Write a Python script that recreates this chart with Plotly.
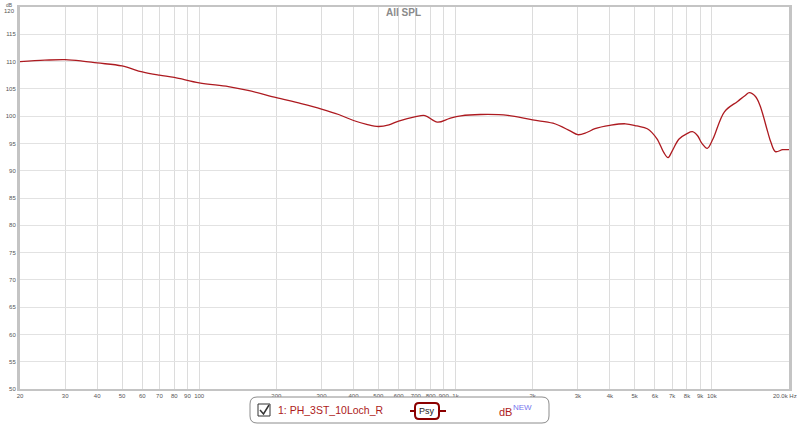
import plotly.graph_objects as go

# ---- data ----
freq_hz = [20, 25, 30, 35, 40, 50, 60, 70, 80, 100, 130, 155, 200, 250, 300, 350, 400, 450, 500,
           550, 600, 700, 760, 850, 950, 1050, 1250, 1600, 2000, 2400, 2800, 3000, 3250, 3500,
           4000, 4600, 5100, 5600, 6100, 6500, 6750, 7000, 7450, 8000, 8400, 8800, 9150, 9600,
           10100, 11200, 12600, 13500, 14000, 14800, 15400, 16500, 17000, 17700, 18900, 20000]
spl_db = [110.0, 110.25, 110.35, 110.1, 109.75, 109.2, 108.1, 107.5, 107.1, 106.1, 105.4, 104.7,
          103.4, 102.3, 101.3, 100.3, 99.2, 98.5, 98.1, 98.4, 99.1, 99.9, 100.1, 98.9, 99.6,
          100.05, 100.3, 100.15, 99.3, 98.7, 97.3, 96.6, 97.0, 97.7, 98.3, 98.6, 98.2, 97.7,
          95.9, 93.3, 92.4, 93.6, 95.8, 96.8, 97.15, 96.4, 95.0, 94.1, 95.8, 100.8, 102.7,
          103.8, 104.3, 103.6, 102.0, 97.2, 95.2, 93.5, 93.85, 93.85]

x_tick_vals = [20, 30, 40, 50, 60, 70, 80, 90, 100, 200, 300, 400, 500, 600, 700, 800, 900,
               1000, 2000, 3000, 4000, 5000, 6000, 7000, 8000, 9000, 10000, 20000]
x_tick_text = ["20", "30", "40", "50", "60", "70", "80", "90", "100", "200", "300", "400", "500",
               "600", "700", "800", "900", "1k", "2k", "3k", "4k", "5k", "6k", "7k", "8k", "9k",
               "10k", ""]          # last label ("20.0k Hz") drawn separately at the edge
last_x_label = "20.0k Hz"
y_tick_vals = list(range(50, 121, 5))
y_tick_text = [str(v) for v in range(50, 116, 5)] + [""]   # 120 drawn separately under "dB"

series_name = "1: PH_3ST_10Loch_R"
title_text = "All SPL"

# ---- layout geometry (pixels) ----
W, H = 800, 425
L, R, T, B = 20, 789, 7, 389
DARKRED = "#ad1a20"
FONT = "Liberation Sans, Arial, sans-serif"


def px(x):
    return (x - L) / (R - L)


def py(y):
    return (B - y) / (B - T)


def rounded_rect(x0, y0, x1, y1, r):
    # pixel coords -> paper path with rounded corners
    rx = r / (R - L)
    ry = r / (B - T)
    a0, a1 = px(x0), px(x1)
    b0, b1 = py(y0), py(y1)  # b0 top, b1 bottom
    return (f"M {a0+rx},{b0} L {a1-rx},{b0} Q {a1},{b0} {a1},{b0-ry} "
            f"L {a1},{b1+ry} Q {a1},{b1} {a1-rx},{b1} L {a0+rx},{b1} "
            f"Q {a0},{b1} {a0},{b1+ry} L {a0},{b0-ry} Q {a0},{b0} {a0+rx},{b0} Z")


def label(text, x, y, size, color, xanchor="center", yanchor="middle"):
    return dict(text=text, x=px(x), y=py(y), xref="paper", yref="paper",
                xanchor=xanchor, yanchor=yanchor, showarrow=False,
                font=dict(size=size, color=color, family=FONT))


fig = go.Figure()
fig.add_trace(go.Scatter(
    x=freq_hz, y=spl_db, mode="lines",
    line=dict(color=DARKRED, width=1.3, shape="spline", smoothing=1.0),
    name=series_name, showlegend=False, hoverinfo="skip",
))

fig.update_layout(
    width=W, height=H,
    margin=dict(l=L, r=W - R, t=T, b=H - B, autoexpand=False),
    paper_bgcolor="white", plot_bgcolor="white",
    font=dict(family=FONT, size=7, color="#666666"),
    showlegend=False,
    xaxis=dict(
        type="log", range=[1.30103, 4.30103], automargin=False,
        tickvals=x_tick_vals, ticktext=x_tick_text,
        showgrid=True, gridcolor="#dcdcdc", gridwidth=1,
        showline=True, linecolor="#c4c4c4", linewidth=2, mirror=True,
        ticks="", tickfont=dict(size=6, color="#555555"), zeroline=False,
    ),
    yaxis=dict(
        range=[50, 120], tickvals=y_tick_vals, ticktext=y_tick_text, automargin=False,
        showgrid=True, gridcolor="#e2e2e2", gridwidth=1,
        showline=True, linecolor="#c4c4c4", linewidth=3, mirror=True,
        ticks="", tickfont=dict(size=6, color="#555555"), zeroline=False,
    ),
)

shapes = []
annotations = []

# title and axis unit labels
annotations.append(label(f"<b>{title_text}</b>", 403, 13, 10, "#8a8a8a"))
annotations.append(label("dB", 15, -0.5, 5, "#555555", "right", "top"))
annotations.append(label("120", 17, 5.5, 6, "#555555", "right", "top"))
annotations.append(label(last_x_label, 799, 396, 6, "#555555", "right"))

# legend box
shapes.append(dict(type="path", path=rounded_rect(250, 397, 549, 423, 7), xref="paper", yref="paper",
                   line=dict(color="#8c8c8c", width=1), fillcolor="white", layer="above"))
# checkbox
shapes.append(dict(type="rect", x0=px(258), x1=px(270), y0=py(416), y1=py(404), xref="paper", yref="paper",
                   line=dict(color="#333333", width=1), fillcolor="white"))
shapes.append(dict(type="path", path=f"M {px(260)},{py(410)} L {px(263.5)},{py(414)} L {px(269)},{py(405)}",
                   xref="paper", yref="paper", line=dict(color="#333333", width=1.5)))
annotations.append(label(series_name, 276, 410, 10.5, DARKRED, "left"))
# Psy button
shapes.append(dict(type="line", x0=px(410), x1=px(446), y0=py(411), y1=py(411), xref="paper", yref="paper",
                   line=dict(color="#8b0000", width=2)))
shapes.append(dict(type="path", path=rounded_rect(415, 403, 439, 419, 4), xref="paper", yref="paper",
                   line=dict(color="#8b0000", width=2), fillcolor="white"))
annotations.append(label("Psy", 427, 411, 9, "#222222"))
# dB NEW
annotations.append(label("dB", 497, 412, 11, DARKRED, "left"))
annotations.append(label("NEW", 511, 407, 8, "#7777ee", "left"))

fig.update_layout(shapes=shapes, annotations=annotations)
fig.write_html("out.html", config={"displayModeBar": False},
               post_script="document.body.style.margin='0';document.body.style.overflow='hidden';")
